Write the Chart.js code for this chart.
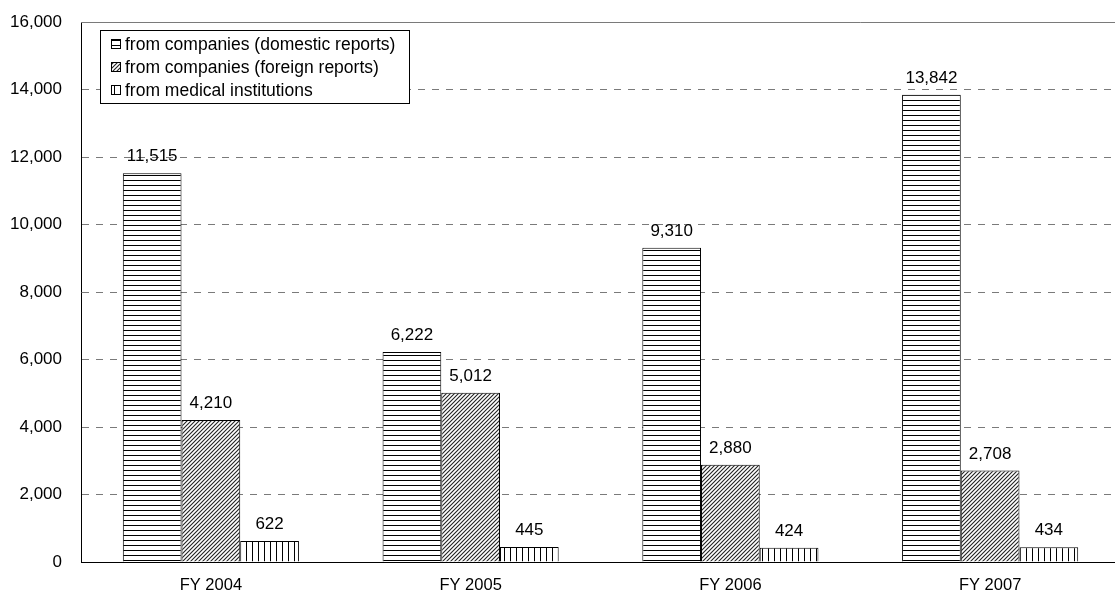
<!DOCTYPE html>
<html>
<head>
<meta charset="utf-8">
<script src="https://cdn.jsdelivr.net/npm/chart.js@4/dist/chart.umd.min.js"></script>
<style>
  html, body { margin: 0; padding: 0; background: #fff; overflow: hidden; }
  canvas { display: block; }
</style>
</head>
<body>
<canvas id="c" width="1120" height="594"></canvas>
<script>
// Adverse reaction reports by source and fiscal year
const categories = ['FY 2004', 'FY 2005', 'FY 2006', 'FY 2007'];
const seriesNames = [
  'from companies (domestic reports)',
  'from companies (foreign reports)',
  'from medical institutions'
];
const domesticReports = [11515, 6222, 9310, 13842];
const foreignReports = [4210, 5012, 2880, 2708];
const medicalReports = [622, 445, 424, 434];
const yTicks = [0, 2000, 4000, 6000, 8000, 10000, 12000, 14000, 16000];

const FONT = '"Liberation Sans", Arial, sans-serif';
const canvas = document.getElementById('c');
const mainCtx = canvas.getContext('2d');

// Monochrome fill patterns for the three series
function makePattern(w, h, draw) {
  const t = document.createElement('canvas');
  t.width = w; t.height = h;
  const x = t.getContext('2d');
  x.fillStyle = '#fff';
  x.fillRect(0, 0, w, h);
  x.fillStyle = '#000';
  x.strokeStyle = '#000';
  draw(x, w, h);
  return mainCtx.createPattern(t, 'repeat');
}
const horizPattern = makePattern(5, 5, (x, w) => { x.fillRect(0, 0, w, 1); });
const vertPattern = makePattern(6, 6, (x, w, h) => { x.fillRect(0, 0, 1, h); });
const diagPattern = makePattern(4, 4, (x, w, h) => {
  x.strokeStyle = '#222';
  x.lineWidth = 1.1;
  x.beginPath();
  for (let k = -1; k <= 1; k++) {
    x.moveTo(k * w - 1, h + 1);
    x.lineTo(k * w + w + 1, -1);
  }
  x.stroke();
});
const patterns = [horizPattern, diagPattern, vertPattern];

const fmt = v => Number(v).toLocaleString('en-US');
const align = p => Math.round(p - 0.5) + 0.5;

// Value labels above each bar
const valueLabels = {
  id: 'valueLabels',
  afterDatasetsDraw(chart) {
    const ctx = chart.ctx;
    ctx.save();
    ctx.font = '17px ' + FONT;
    ctx.fillStyle = '#000';
    ctx.textAlign = 'center';
    ctx.textBaseline = 'alphabetic';
    chart.data.datasets.forEach((ds, i) => {
      chart.getDatasetMeta(i).data.forEach((bar, j) => {
        ctx.fillText(fmt(ds.data[j]), bar.x, bar.y - 12);
      });
    });
    ctx.restore();
  }
};

// Solid frame line along the top of the plot
const topFrame = {
  id: 'topFrame',
  beforeDatasetsDraw(chart) {
    const { ctx, chartArea, scales } = chart;
    const y = align(scales.y.getPixelForValue(yTicks[yTicks.length - 1]));
    ctx.save();
    ctx.strokeStyle = '#7a7a7a';
    ctx.lineWidth = 1;
    ctx.beginPath();
    ctx.moveTo(chartArea.left, y);
    ctx.lineTo(chartArea.right, y);
    ctx.stroke();
    ctx.restore();
  }
};

// Boxed legend inside the plot area
const boxLegend = {
  id: 'boxLegend',
  afterDraw(chart) {
    const ctx = chart.ctx;
    const bx = 100.5, by = 30.5, bw = 309, bh = 73;
    ctx.save();
    ctx.fillStyle = '#fff';
    ctx.fillRect(bx, by, bw, bh);
    ctx.strokeStyle = '#000';
    ctx.lineWidth = 1;
    ctx.strokeRect(bx, by, bw, bh);
    ctx.font = '17.5px ' + FONT;
    ctx.textBaseline = 'middle';
    ctx.textAlign = 'left';
    chart.data.datasets.forEach((ds, i) => {
      const cy = 44 + i * 23;
      ctx.fillStyle = ds.backgroundColor;
      ctx.fillRect(111, cy - 5, 10, 10);
      ctx.strokeStyle = '#000';
      ctx.strokeRect(111.5, cy - 4.5, 9, 9);
      ctx.fillStyle = '#000';
      ctx.fillText(ds.label, 125, cy + 1);
    });
    ctx.restore();
  }
};

const seriesValues = [domesticReports, foreignReports, medicalReports];

new Chart(canvas, {
  type: 'bar',
  data: {
    labels: categories,
    datasets: seriesValues.map((vals, i) => ({
      label: seriesNames[i],
      data: vals,
      backgroundColor: patterns[i],
      borderColor: '#000',
      borderWidth: 1,
      borderSkipped: 'start',
      categoryPercentage: 0.678,
      barPercentage: 1.0
    }))
  },
  options: {
    responsive: false,
    animation: false,
    devicePixelRatio: 1,
    layout: { padding: { top: 22, right: 0, bottom: 0, left: 0 } },
    plugins: { legend: { display: false }, tooltip: { enabled: false } },
    scales: {
      x: {
        grid: { display: false, drawTicks: false },
        border: { color: '#000', width: 1 },
        ticks: { color: '#000', font: { family: FONT, size: 16.5 }, padding: 14 },
        afterFit(s) { s.height = 32; s.paddingLeft = 0; s.paddingRight = 0; }
      },
      y: {
        min: yTicks[0],
        max: yTicks[yTicks.length - 1],
        afterBuildTicks(s) { s.ticks = yTicks.map(v => ({ value: v })); },
        ticks: {
          color: '#000',
          font: { family: FONT, size: 17 },
          padding: 19,
          callback: v => fmt(v)
        },
        grid: { color: '#7a7a7a', lineWidth: 1, drawTicks: false },
        border: { color: '#000', width: 1, dash: [7, 7] },
        afterFit(s) { s.width = 81; s.paddingTop = 0; s.paddingBottom = 0; }
      }
    }
  },
  plugins: [topFrame, valueLabels, boxLegend]
});
</script>
</body>
</html>
